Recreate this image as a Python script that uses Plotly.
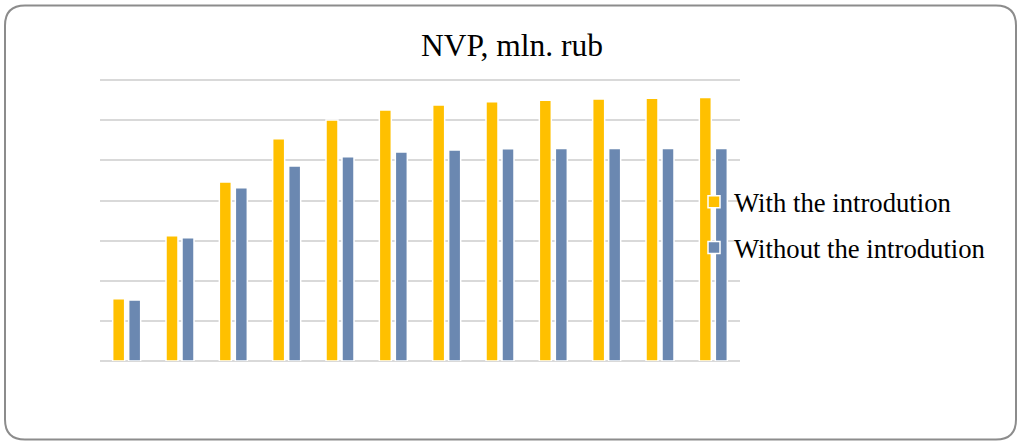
import plotly.graph_objects as go

# ---- data (gridline units) ----
categories = [str(i) for i in range(1, 13)]
with_intro = [1.55, 3.12, 4.46, 5.54, 6.01, 6.26, 6.38, 6.46, 6.50, 6.53, 6.55, 6.57]
without_intro = [1.52, 3.07, 4.32, 4.86, 5.09, 5.21, 5.26, 5.29, 5.30, 5.30, 5.30, 5.30]
series_names = ["With the introdution", "Without the introdution"]
title_text = "NVP, mln. rub"

# ---- layout constants ----
W, H = 1018, 441
L, R, T, B = 100, 740, 79, 361
YMAX = 7.03
ORANGE = "#FFC000"
BLUE = "#6B88B1"
FONT = "Liberation Serif"

fig = go.Figure()
fig.add_trace(go.Bar(x=categories, y=with_intro, name=series_names[0],
                     marker=dict(color=ORANGE, line=dict(color="white", width=1.5)),
                     legendgroup="a"))
fig.add_trace(go.Bar(x=categories, y=without_intro, name=series_names[1],
                     marker=dict(color=BLUE, line=dict(color="white", width=1.5)),
                     legendgroup="b"))

# rounded border around the chart area (pixel -> paper conversion)
def px(xp):
    return (xp - L) / (R - L)

def py(yp):
    return (B - yp) / (B - T)

x0, x1, y0, y1, r = 5, 1016, 5.5, 439.5, 20
path = (
    f"M {px(x0 + r)} {py(y0)} L {px(x1 - r)} {py(y0)} "
    f"Q {px(x1)} {py(y0)} {px(x1)} {py(y0 + r)} "
    f"L {px(x1)} {py(y1 - r)} Q {px(x1)} {py(y1)} {px(x1 - r)} {py(y1)} "
    f"L {px(x0 + r)} {py(y1)} Q {px(x0)} {py(y1)} {px(x0)} {py(y1 - r)} "
    f"L {px(x0)} {py(y0 + r)} Q {px(x0)} {py(y0)} {px(x0 + r)} {py(y0)} Z"
)
fig.add_shape(type="path", path=path, xref="paper", yref="paper",
              line=dict(color="#8C8C8C", width=2), fillcolor="rgba(0,0,0,0)",
              layer="above")

fig.update_layout(
    width=W, height=H,
    margin=dict(l=L, r=W - R, t=T, b=H - B, pad=0),
    paper_bgcolor="white", plot_bgcolor="white",
    barmode="group", bargap=0.4, bargroupgap=0.25,
    font=dict(family=FONT, color="black"),
    title=dict(text=title_text, x=512 / W, xanchor="center", xref="container",
               y=1 - 45 / H, yanchor="middle", yref="container",
               font=dict(family=FONT, size=31.5, color="black")),
    showlegend=True,
    legend=dict(x=px(694), xanchor="left", y=py(225), yanchor="middle",
                bgcolor="rgba(0,0,0,0)", font=dict(family=FONT, size=26.7, color="black"),
                tracegroupgap=8, traceorder="grouped", itemwidth=30),
    xaxis=dict(showticklabels=False, showgrid=False, zeroline=False, showline=False,
               ticks=""),
    yaxis=dict(range=[0, YMAX], dtick=1, showticklabels=False, showgrid=True,
               gridcolor="#D9D9D9", gridwidth=1.5, zeroline=True,
               zerolinecolor="#D9D9D9", zerolinewidth=1.5, showline=False, ticks=""),
)

fig.write_html("out.html", config={"displayModeBar": False},
               post_script="document.body.style.margin='0';document.body.style.padding='0';")
